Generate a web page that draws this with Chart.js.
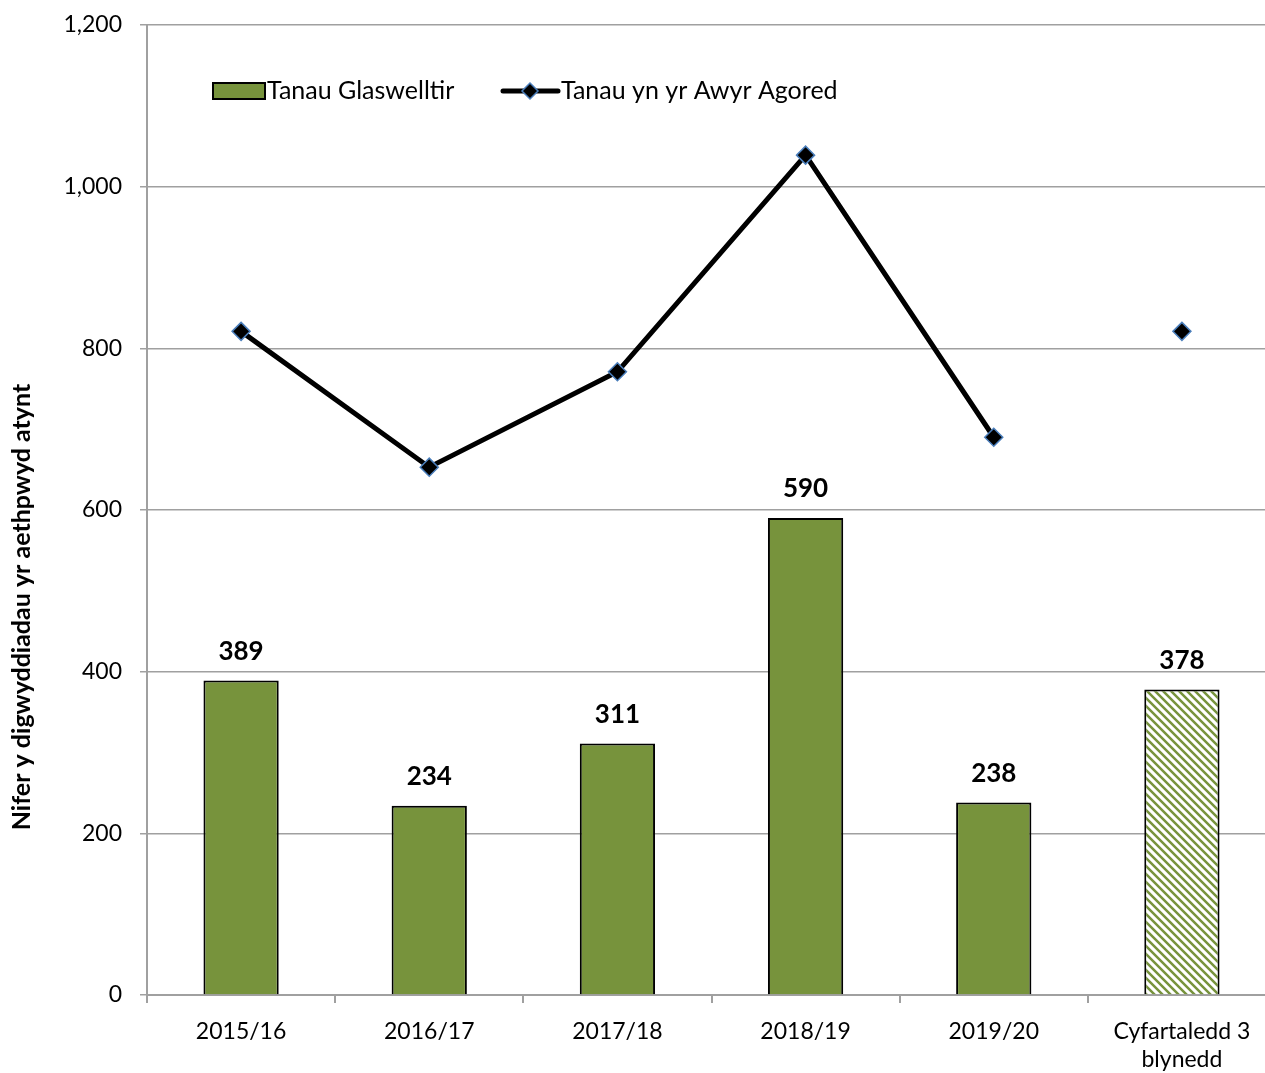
<!DOCTYPE html>
<html>
<head>
<meta charset="utf-8">
<script src="https://cdn.jsdelivr.net/npm/chart.js@4"></script>
<style>
  html, body { margin: 0; padding: 0; background: #fff; overflow: hidden; }
  canvas { display: block; }
</style>
</head>
<body>
<!-- slightly wider than the window: the reference plot runs past the right edge -->
<canvas id="fireChart" width="1276" height="1073"></canvas>
<script>
// Data
const categories = ['2015/16', '2016/17', '2017/18', '2018/19', '2019/20', ['Cyfartaledd 3', 'blynedd']];
const grassFires = [389, 234, 311, 590, 238, 378];
const openFires = [821, 653, 771, 1039, 690, 821];
const yTicks = [0, 200, 400, 600, 800, 1000, 1200];
const yTitle = 'Nifer y digwyddiadau yr aethpwyd atynt';

const FONT = 'Lato, "DejaVu Sans", sans-serif';
const green = '#77933c';

// Hatch pattern for the average bar
function makeHatch() {
    const c = document.createElement('canvas');
    c.width = 8; c.height = 8;
    const g = c.getContext('2d');
    g.fillStyle = '#fff';
    g.fillRect(0, 0, 8, 8);
    g.strokeStyle = green;
    g.lineWidth = 2.5;
    g.beginPath();
    g.moveTo(-2, -2); g.lineTo(10, 10);
    g.moveTo(-6, 2); g.lineTo(2, 10);
    g.moveTo(6, -2); g.lineTo(10, 2);
    g.stroke();
    return g.createPattern(c, 'repeat');
}
const ctx = document.getElementById('fireChart').getContext('2d');
const hatch = makeHatch();
const barColors = grassFires.map((v, i) => i === grassFires.length - 1 ? hatch : green);

// Labels above the bars
const barLabels = {
    id: 'barLabels',
    afterDatasetsDraw(chart) {
        const c = chart.ctx;
        const meta = chart.getDatasetMeta(1);
        c.save();
        c.font = 'bold 26px ' + FONT;
        c.fillStyle = '#000';
        c.textAlign = 'center';
        c.textBaseline = 'middle';
        meta.data.forEach((bar, i) => {
            c.fillText(String(grassFires[i]), bar.x, bar.y - 29);
        });
        c.restore();
    }
};

// Legend drawn inside the plot, plus the y axis title
const innerLegend = {
    id: 'innerLegend',
    afterDraw(chart) {
        const c = chart.ctx;
        const y = 91;
        c.save();
        c.fillStyle = green;
        c.fillRect(213, y - 8, 52, 16);
        c.strokeStyle = '#000';
        c.lineWidth = 2;
        c.strokeRect(213, y - 8, 52, 16);
        c.font = '25px ' + FONT;
        c.fillStyle = '#000';
        c.textBaseline = 'middle';
        c.fillText('Tanau Glaswelltir', 267, y);
        c.beginPath();
        c.lineWidth = 5;
        c.lineCap = 'round';
        c.moveTo(503, y); c.lineTo(558, y);
        c.stroke();
        c.beginPath();
        c.moveTo(530, y - 8); c.lineTo(538, y); c.lineTo(530, y + 8); c.lineTo(522, y);
        c.closePath();
        c.fillStyle = '#000';
        c.fill();
        c.strokeStyle = '#4a7ebb';
        c.lineWidth = 1.5;
        c.stroke();
        c.fillStyle = '#000';
        c.fillText('Tanau yn yr Awyr Agored', 561, y);

        c.translate(22, 607);
        c.rotate(-Math.PI / 2);
        c.font = 'bold 25px ' + FONT;
        c.textAlign = 'center';
        c.fillText(yTitle, 0, 0);
        c.restore();
    }
};

new Chart(ctx, {
    type: 'bar',
    data: {
        labels: categories,
        datasets: [{
            type: 'line',
            label: 'Tanau yn yr Awyr Agored',
            data: openFires,
            borderColor: '#000',
            borderWidth: 5,
            pointStyle: 'rectRot',
            pointRadius: 9,
            pointBackgroundColor: '#000',
            pointBorderColor: '#4a7ebb',
            pointBorderWidth: 1.5,
            tension: 0,
            order: 0,
            segment: {
                borderColor: s => s.p1DataIndex === openFires.length - 1 ? 'rgba(0,0,0,0)' : '#000'
            }
        }, {
            label: 'Tanau Glaswelltir',
            data: grassFires,
            backgroundColor: barColors,
            borderColor: '#000',
            borderWidth: 2,
            barPercentage: 0.4,
            categoryPercentage: 1,
            order: 1
        }]
    },
    plugins: [barLabels, innerLegend],
    options: {
        responsive: false,
        animation: false,
        layout: { autoPadding: false, padding: { top: 25, right: 0, left: 0, bottom: 0 } },
        plugins: {
            legend: { display: false },
            tooltip: { enabled: false }
        },
        scales: {
            x: {
                offset: true,
                grid: {
                    offset: true,
                    drawOnChartArea: false,
                    drawTicks: true,
                    tickLength: 8,
                    color: '#a0a0a0',
                    lineWidth: 2
                },
                border: { color: '#a0a0a0', width: 2 },
                ticks: {
                    color: '#000',
                    font: { family: FONT, size: 23 },
                    padding: 15,
                    maxRotation: 0,
                    autoSkip: false
                },
                afterFit(scale) {
                    scale.height = 78;
                    scale.paddingLeft = 0;
                    scale.paddingRight = 0;
                }
            },
            y: {
                min: 0,
                max: 1200,
                afterBuildTicks(scale) { scale.ticks = yTicks.map(v => ({ value: v })); },
                grid: {
                    color: '#a0a0a0',
                    lineWidth: 1.5,
                    tickLength: 7
                },
                border: { color: '#a0a0a0', width: 2 },
                ticks: {
                    color: '#000',
                    font: { family: FONT, size: 23 },
                    padding: 18,
                    callback: v => v.toLocaleString('en-GB')
                },
                afterFit(scale) {
                    scale.width = 147;
                    scale.paddingTop = 0;
                    scale.paddingBottom = 0;
                }
            }
        }
    }
});
</script>
</body>
</html>
